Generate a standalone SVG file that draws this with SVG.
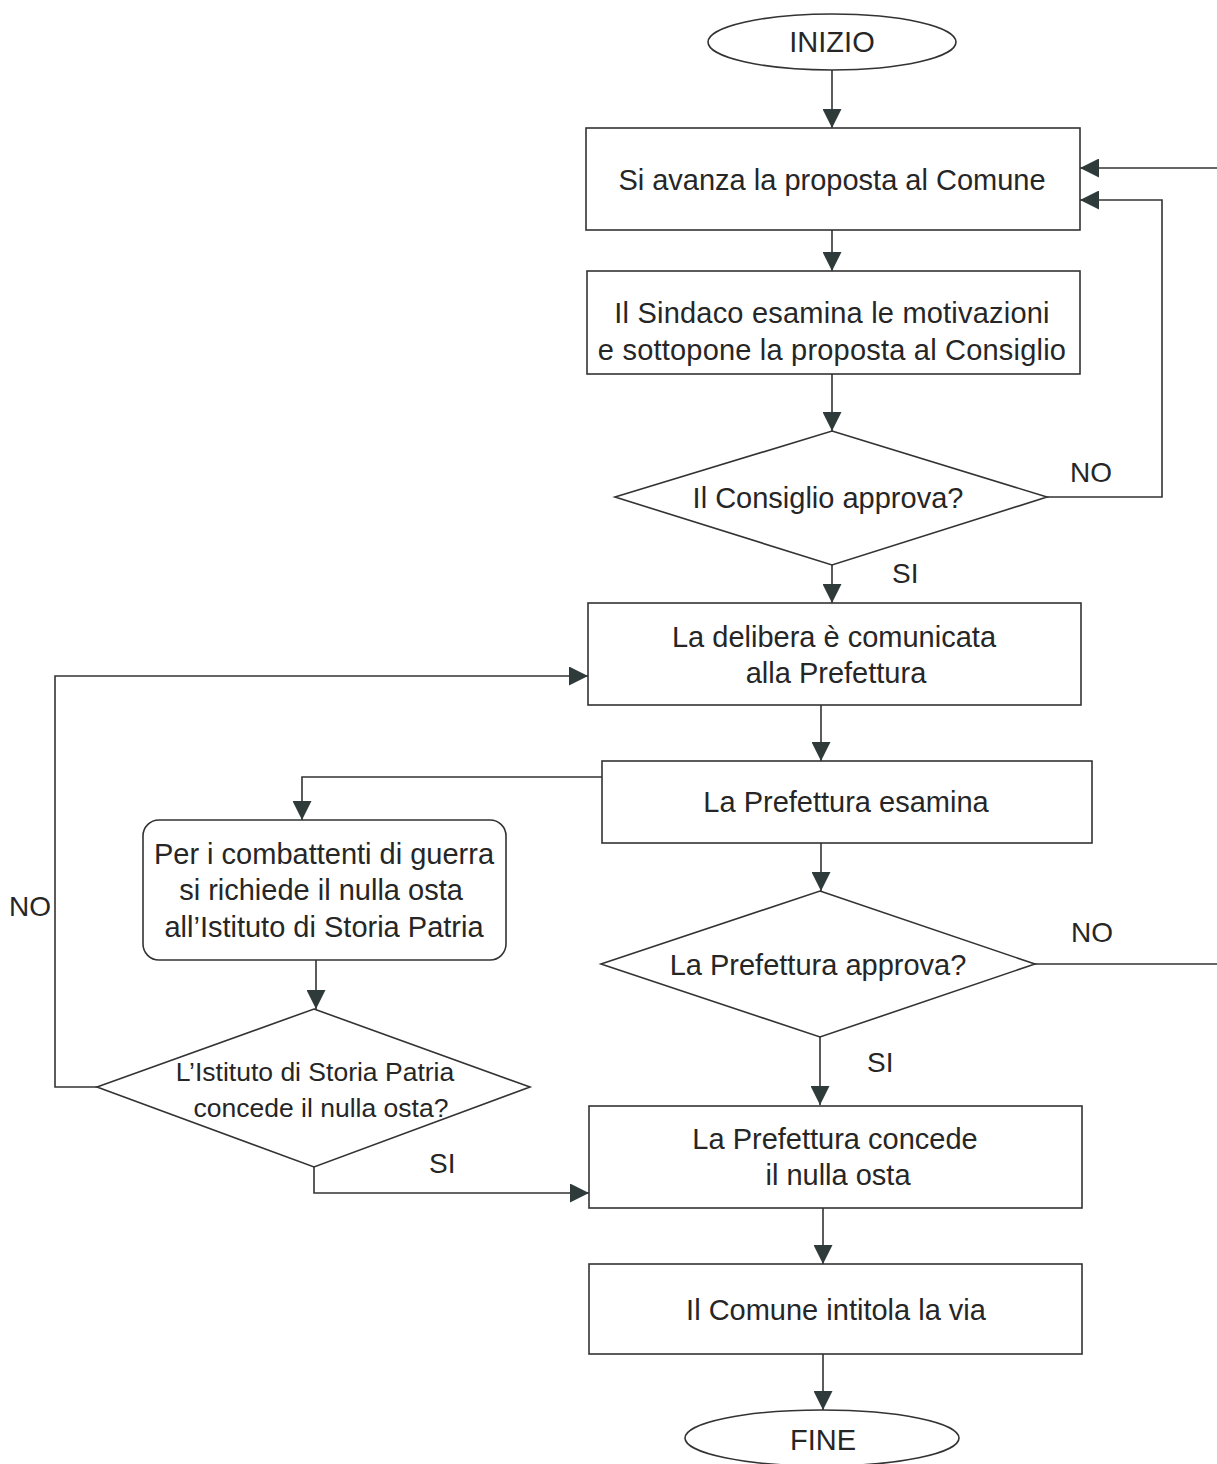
<svg xmlns="http://www.w3.org/2000/svg" width="1217" height="1464" viewBox="0 0 1217 1464">
<style>
  .shape { fill: #ffffff; stroke: #333333; stroke-width: 1.6; }
  .conn { fill: none; stroke: #333333; stroke-width: 1.6; }
  .t { font-family: "Liberation Sans", Arial, sans-serif; font-size: 29px; fill: #262626; text-anchor: middle; }
  .ts { font-family: "Liberation Sans", Arial, sans-serif; font-size: 26.5px; fill: #262626; text-anchor: middle; }
  .lbl { font-family: "Liberation Sans", Arial, sans-serif; font-size: 28px; fill: #262626; }
</style>
<defs>
  <marker id="arr" markerUnits="userSpaceOnUse" markerWidth="19" markerHeight="19" refX="19" refY="9.5" orient="auto" viewBox="0 0 19 19">
    <path d="M0,0 L19,9.5 L0,19 z" fill="#2f3b3a"/>
  </marker>
</defs>
<rect x="0" y="0" width="1217" height="1464" fill="#ffffff"/>

<g id="connectors">
  <path class="conn" d="M832,70 L832,128" marker-end="url(#arr)"/>
  <path class="conn" d="M832,230 L832,271" marker-end="url(#arr)"/>
  <path class="conn" d="M832,374 L832,431" marker-end="url(#arr)"/>
  <path class="conn" d="M832,565 L832,603" marker-end="url(#arr)"/>
  <path class="conn" d="M1047,497 L1162,497 L1162,200 L1080,200" marker-end="url(#arr)"/>
  <path class="conn" d="M1035,964 L1230,964 L1230,168 L1080,168" marker-end="url(#arr)"/>
  <path class="conn" d="M821,705 L821,761" marker-end="url(#arr)"/>
  <path class="conn" d="M602,777 L302,777 L302,820" marker-end="url(#arr)"/>
  <path class="conn" d="M821,843 L821,891" marker-end="url(#arr)"/>
  <path class="conn" d="M316,960 L316,1009" marker-end="url(#arr)"/>
  <path class="conn" d="M97,1087 L55,1087 L55,676 L588,676" marker-end="url(#arr)"/>
  <path class="conn" d="M314,1167 L314,1193 L589,1193" marker-end="url(#arr)"/>
  <path class="conn" d="M820,1037 L820,1105" marker-end="url(#arr)"/>
  <path class="conn" d="M823,1208 L823,1264" marker-end="url(#arr)"/>
  <path class="conn" d="M823,1354 L823,1410" marker-end="url(#arr)"/>
  <text class="lbl" x="1070" y="482">NO</text>
  <text class="lbl" x="892" y="583">SI</text>
  <text class="lbl" x="1071" y="942">NO</text>
  <text class="lbl" x="867" y="1072">SI</text>
  <text class="lbl" x="9" y="916">NO</text>
  <text class="lbl" x="429" y="1173">SI</text>
</g>

<g id="inizio">
  <ellipse class="shape" cx="832" cy="42" rx="124" ry="28"/>
  <text class="t" x="832" y="52">INIZIO</text>
</g>

<g id="proposta">
  <rect class="shape" x="586" y="128" width="494" height="102"/>
  <text class="t" x="832" y="190">Si avanza la proposta al Comune</text>
</g>

<g id="sindaco">
  <rect class="shape" x="587" y="271" width="493" height="103"/>
  <text class="t" x="832" y="323" letter-spacing="0.2">Il Sindaco esamina le motivazioni</text>
  <text class="t" x="832" y="360" letter-spacing="0.2">e sottopone la proposta al Consiglio</text>
</g>

<g id="consiglio">
  <polygon class="shape" points="832,431 1047,497 832,565 615,497"/>
  <text class="t" x="828" y="508">Il Consiglio approva?</text>
</g>

<g id="delibera">
  <rect class="shape" x="588" y="603" width="493" height="102"/>
  <text class="t" x="834" y="647">La delibera è comunicata</text>
  <text class="t" x="836" y="683">alla Prefettura</text>
</g>

<g id="esamina">
  <rect class="shape" x="602" y="761" width="490" height="82"/>
  <text class="t" x="846" y="812">La Prefettura esamina</text>
</g>

<g id="combattenti">
  <rect class="shape" x="143" y="820" width="363" height="140" rx="16" ry="16"/>
  <text class="t" x="324" y="864">Per i combattenti di guerra</text>
  <text class="t" x="321" y="900">si richiede il nulla osta</text>
  <text class="t" x="324" y="937">all’Istituto di Storia Patria</text>
</g>

<g id="istituto">
  <polygon class="shape" points="314,1009 530,1087 314,1167 97,1087"/>
  <text class="ts" x="315" y="1081">L’Istituto di Storia Patria</text>
  <text class="ts" x="321" y="1117">concede il nulla osta?</text>
</g>

<g id="prefettura-approva">
  <polygon class="shape" points="820,891 1035,964 820,1037 601,964"/>
  <text class="t" x="818" y="975">La Prefettura approva?</text>
</g>

<g id="concede">
  <rect class="shape" x="589" y="1106" width="493" height="102"/>
  <text class="t" x="835" y="1149">La Prefettura concede</text>
  <text class="t" x="838" y="1185">il nulla osta</text>
</g>

<g id="intitola">
  <rect class="shape" x="589" y="1264" width="493" height="90"/>
  <text class="t" x="836" y="1320">Il Comune intitola la via</text>
</g>

<g id="fine">
  <ellipse class="shape" cx="822" cy="1438" rx="137" ry="28"/>
  <text class="t" x="823" y="1450">FINE</text>
</g>
</svg>
